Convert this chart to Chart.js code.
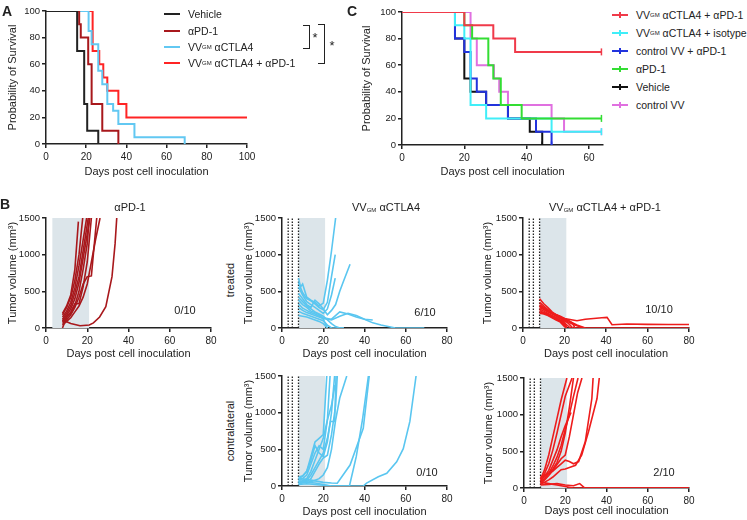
<!DOCTYPE html>
<html lang="en">
<head>
<meta charset="UTF-8">
<title>Survival and tumor growth</title>
<style>
  body { margin: 0; width: 747px; height: 520px; position: relative; overflow: hidden; background: #fff;
         font-family: Arial, "Liberation Sans", Helvetica, sans-serif; color: #222; }
  canvas { position: absolute; }
  .c { position: absolute; white-space: nowrap; font-size: 11px; line-height: 1; transform: translate(-50%, -50%); }
  .v { position: absolute; white-space: nowrap; font-size: 11px; line-height: 1; transform: translate(-50%, -50%) rotate(-90deg); }
  .letter { position: absolute; font-weight: bold; font-size: 14px; line-height: 1; }
  .leg { position: absolute; display: flex; align-items: center; height: 14px; font-size: 10.5px; white-space: nowrap; }
  .leg .ln { position: relative; display: inline-block; width: 16px; height: 2px; margin-right: 8px; }
  .leg .ln b { position: absolute; left: 7px; top: -2px; width: 1.5px; height: 6px; background: inherit; }
  sub { font-size: 6px; vertical-align: -1px; }
  .br { position: absolute; border: 1.5px solid #222; border-left: none; }
  .star { position: absolute; font-size: 13px; transform: translate(-50%, -50%); }
</style>
<script src="https://cdn.jsdelivr.net/npm/chart.js"></script>
</head>
<body>

<canvas id="chartA"></canvas>
<canvas id="chartC"></canvas>
<canvas id="chartB1"></canvas>
<canvas id="chartB2"></canvas>
<canvas id="chartB3"></canvas>
<canvas id="chartB4"></canvas>
<canvas id="chartB5"></canvas>

<!-- panel letters -->
<div class="letter" style="left:2px;top:4px">A</div>
<div class="letter" style="left:0px;top:197px">B</div>
<div class="letter" style="left:347px;top:4px">C</div>

<!-- legend A -->
<div class="leg" style="left:164px;top:7px"><span class="ln" style="background:#222"></span>Vehicle</div>
<div class="leg" style="left:164px;top:24px"><span class="ln" style="background:#a8181c"></span>αPD-1</div>
<div class="leg" style="left:164px;top:40px"><span class="ln" style="background:#62c8f2"></span>VV<sub>GM</sub>&nbsp;αCTLA4</div>
<div class="leg" style="left:164px;top:56px"><span class="ln" style="background:#ff2424"></span>VV<sub>GM</sub>&nbsp;αCTLA4 + αPD-1</div>
<div class="br" style="left:303px;top:25px;width:6px;height:22px"></div>
<div class="star" style="left:315px;top:37px">*</div>
<div class="br" style="left:318px;top:24px;width:6px;height:38px"></div>
<div class="star" style="left:332px;top:45px">*</div>

<!-- legend C -->
<div class="leg" style="left:612px;top:8px"><span class="ln" style="background:#f03a4a"><b></b></span>VV<sub>GM</sub>&nbsp;αCTLA4 + αPD-1</div>
<div class="leg" style="left:612px;top:26px"><span class="ln" style="background:#40eef8"><b></b></span>VV<sub>GM</sub>&nbsp;αCTLA4 + isotype</div>
<div class="leg" style="left:612px;top:44px"><span class="ln" style="background:#2233dd"><b></b></span>control VV + αPD-1</div>
<div class="leg" style="left:612px;top:62px"><span class="ln" style="background:#33dd33"><b></b></span>αPD-1</div>
<div class="leg" style="left:612px;top:80px"><span class="ln" style="background:#111"><b></b></span>Vehicle</div>
<div class="leg" style="left:612px;top:98px"><span class="ln" style="background:#e070e0"><b></b></span>control VV</div>

<!-- panel B titles and labels -->
<div class="c" style="left:130px;top:207px">αPD-1</div>
<div class="c" style="left:386px;top:207px">VV<sub>GM</sub>&nbsp;αCTLA4</div>
<div class="c" style="left:605px;top:207px">VV<sub>GM</sub>&nbsp;αCTLA4 + αPD-1</div>
<div class="v" style="left:230px;top:280px">treated</div>
<div class="v" style="left:230px;top:431px">contralateral</div>
<div class="c" style="left:185px;top:310px">0/10</div>
<div class="c" style="left:425px;top:312px">6/10</div>
<div class="c" style="left:659px;top:309px">10/10</div>
<div class="c" style="left:427px;top:472px">0/10</div>
<div class="c" style="left:664px;top:472px">2/10</div>

<script>
// ---- Panel A: survival (day, % alive) ----
const kmA_vehicle = [[0,100],[15.5,70],[19,30],[20.5,10],[26,0]];
const kmA_pd1     = [[0,100],[16.5,90],[17.3,80],[21,60],[22.7,30],[28,10],[36,0]];
const kmA_ctla4   = [[0,100],[21.2,85],[22.7,75],[26,55],[28,45],[30.5,30],[33.4,25],[36,15],[44,5],[69,0]];
const kmA_combo   = [[0,100],[23.2,70],[26.5,60],[28.5,50],[30.5,40],[36,30],[40,20],[100,20]];
const ticksA_x = [0, 20, 40, 60, 80, 100];
const ticksSurv = [0, 20, 40, 60, 80, 100];

// ---- Panel C: survival (day, % alive) ----
const kmC_combo   = [[0,100],[20,90],[29.3,80],[36.3,70],[64,70]];
const kmC_isotype = [[0,100],[17,90],[20,80],[22,30],[27,20],[48,10],[64,10]];
const kmC_vvPd1   = [[0,100],[17,80],[20,70],[22,50],[24,40],[27,30],[34,20],[43,10],[48,0]];
const kmC_pd1     = [[0,100],[20,90],[22.5,80],[27.7,60],[29.3,50],[31.7,30],[38.4,20],[64,20]];
const kmC_vehicle = [[0,100],[17,80],[20,50],[22,40],[27,30],[34,20],[41,10],[45,0]];
const kmC_vv      = [[0,100],[22,80],[24,60],[29.5,50],[31.2,40],[34,30],[48,20],[52,10],[64,10]];
const ticksC_x = [0, 20, 40, 60];

// ---- Panel B: tumor volume (day, mm3) per mouse ----
const ticksB_x = [0, 20, 40, 60, 80];
const ticksB_y = [0, 500, 1000, 1500];
const treatPd1 = [3, 21];        // shaded window, aPD-1 alone
const treatVV = [8, 21];         // shaded window, virus groups
const injectDays = [3, 5, 8];    // dotted lines

const tumPd1 = [
  [[8,200],[10,300],[12,450],[14,800],[15.7,1450]],
  [[8,180],[10,280],[12,420],[14,650],[16,1000],[17.8,1500]],
  [[8,150],[10,230],[12,350],[14,550],[16,850],[18,1200],[19.7,1500]],
  [[8,120],[10,200],[12,300],[14,480],[16,700],[18,1050],[20.5,1500]],
  [[8,100],[10,170],[12,260],[14,400],[16,620],[18,950],[21.3,1500]],
  [[8,80],[10,140],[12,220],[14,330],[16,330],[18,560],[20,900],[22,1500]],
  [[8,60],[10,110],[12,180],[14,280],[16,420],[18,600],[20,700],[22,710],[24.6,1500]],
  [[8,40],[10,90],[12,140],[14,220],[16,300],[18,420],[20,600],[22,900],[24,1200],[26.2,1500]],
  [[8,0],[10,150],[12,200],[14,310],[16,500],[18,800],[20,1150],[21,1500]],
  [[8,110],[12,60],[16.5,30],[21,40],[23,70],[26,150],[29,290],[32,700],[33.5,1150],[34.3,1500]]
];
const tumCtla4 = [
  [[8,680],[9,560],[10,600],[12,420],[14,380],[16,350],[18,300],[20,340],[22,650],[24,1050],[26,1500]],
  [[8,620],[10,480],[12,400],[14,370],[16,330],[18,280],[20,250],[22,350],[24,700],[25.8,1000]],
  [[8,560],[10,450],[12,360],[14,320],[16,280],[18,240],[20,200],[22,260],[24,450],[25.8,680]],
  [[8,470],[10,400],[12,320],[14,280],[16,380],[18,330],[20,260],[22,180],[24,240],[26,320],[28,500],[30,650],[33,870]],
  [[8,420],[10,360],[12,300],[14,260],[16,220],[18,190],[20,160],[22,110],[24,60],[26,20],[28,0],[30,0]],
  [[8,380],[10,320],[12,280],[14,230],[16,210],[18,180],[20,120],[22,0]],
  [[8,330],[10,270],[12,240],[14,210],[16,190],[18,160],[20,140],[24,120],[28,220],[32,190],[36,150],[40,120],[44,110]],
  [[8,280],[10,240],[12,210],[14,190],[16,170],[18,150],[20,130],[24,110],[28,160],[32,200],[36,170],[40,120],[44,70],[48,40],[55,0],[69,0]],
  [[8,230],[10,200],[12,180],[14,160],[16,140],[18,120],[20,100],[22,40],[24,0],[30,0]],
  [[8,170],[10,160],[12,150],[14,130],[16,110],[18,90],[20,60],[22,0]]
];
const tumCombo = [
  [[8,400],[10,330],[12,280],[14,220],[16,180],[18,150],[20,130],[22,120],[24,110],[26,100],[28,110],[30,120],[34,130],[38,140],[40.5,145],[42.9,44],[50,55],[60,50],[70,48],[80,48]],
  [[8,350],[10,300],[12,250],[14,200],[16,170],[18,140],[20,100],[22,60],[24,0],[80,0]],
  [[8,320],[10,280],[12,240],[14,210],[16,180],[18,150],[20,120],[22,100],[24,70],[26,40],[28,20],[30,0]],
  [[8,300],[10,260],[12,220],[14,190],[16,170],[18,140],[20,80],[21,0]],
  [[8,280],[10,250],[12,220],[14,200],[16,180],[18,160],[20,130],[22,100],[24,60],[25,0]],
  [[8,260],[10,230],[12,200],[14,170],[16,140],[18,110],[20,70],[22,20],[23,0]],
  [[8,240],[10,210],[12,190],[14,160],[16,130],[18,100],[20,60],[21,0]],
  [[8,220],[10,200],[12,180],[14,150],[16,120],[18,90],[20,40],[21,0]],
  [[8,200],[10,190],[12,170],[14,140],[16,110],[18,80],[20,20],[21,0]],
  [[8,300],[10,270],[12,240],[14,200],[16,160],[18,130],[20,110],[22,80],[24,50],[26,30],[28,10],[30,0]]
];
const tumCtla4Contra = [
  [[8,100],[10,130],[12,200],[14,400],[16,600],[18,650],[20,700],[21.7,1500]],
  [[8,80],[10,100],[12,150],[14,300],[16,450],[18,550],[20,500],[22,900],[23.3,1500]],
  [[8,60],[10,70],[12,100],[14,200],[16,350],[18,500],[20,650],[22,900],[24,1100],[25.7,1380]],
  [[8,50],[10,60],[12,80],[14,150],[16,250],[18,350],[20,450],[22,650],[23.5,880],[25.5,880],[26.2,1500]],
  [[8,40],[10,50],[12,60],[14,100],[16,200],[18,300],[20,380],[22,420],[24,700],[26,1100],[26.8,1500]],
  [[8,30],[10,40],[12,50],[14,60],[16,80],[18,100],[20,150],[22,250],[24,500],[26,900],[28,1200],[31.4,1500]],
  [[8,100],[12,90],[16,70],[20,50],[24,40],[26.8,37],[33,286],[39.4,787],[42.3,1500]],
  [[8,70],[12,50],[16,40],[20,20],[24,0],[32.7,0],[36,400],[39,900],[41.9,1500]],
  [[8,20],[12,30],[16,20],[20,10],[24,0],[39.4,0],[41,40],[46.7,127],[50.8,173],[55.6,330],[58.8,510],[62,880],[65,1500]],
  [[8,120],[10,140],[12,200],[14,350],[16,550],[18,450],[20,400],[22,600],[24,1000],[25.5,1500]]
];
const tumComboContra = [
  [[8,120],[10,250],[12,450],[14,700],[16,950],[18,1200],[20.8,1500]],
  [[8,100],[10,200],[12,330],[14,520],[16,750],[18,1000],[20,1250],[23.3,1500]],
  [[8,90],[10,160],[12,240],[14,380],[16,520],[18,700],[20,850],[22.8,1030]],
  [[8,70],[10,130],[12,200],[14,300],[16,420],[18,580],[20,800],[22,1000],[24,1250],[26.2,1500]],
  [[8,60],[10,110],[12,170],[14,240],[16,320],[18,400],[20,450],[22,700],[24,1000],[26,1300],[28.1,1500]],
  [[8,150],[10,180],[12,200],[14,230],[16,280],[18,330],[20,380],[22,360],[24,330],[26.5,360],[29.7,630],[32.9,1220],[33.5,1500]],
  [[8,50],[10,80],[12,110],[14,150],[16,200],[18,250],[20,260],[22,280],[25,310],[28,450],[31.3,770],[35.4,1220],[36.5,1500]],
  [[8,130],[10,160],[12,200],[14,260],[16,350],[18,500],[20,750],[22,1100],[24,1500]],
  [[8,40],[12,50],[16,60],[20,40],[24,30],[27,60],[29.5,0],[80,0]],
  [[8,80],[12,60],[16,40],[20,20],[24,0],[80,0]]
];

// ---------------- drawing ----------------
Chart.defaults.font.family = 'Arial, "Liberation Sans", Helvetica, sans-serif';
Chart.defaults.color = '#222';
const INK = '#222';

function pts(arr) { return arr.map(p => ({x: p[0], y: p[1]})); }

function xScale(min, max, ticks, title, box) {
    return {
        type: 'linear', position: 'bottom', min: min, max: max,
        afterBuildTicks: s => { s.ticks = ticks.map(v => ({value: v})); },
        afterFit: s => { s.height = box.xh; },
        grid: {drawOnChartArea: false, drawTicks: true, tickLength: 4, color: INK, lineWidth: 1.5},
        border: {color: INK, width: 1.5},
        ticks: {font: {size: 10}, color: INK, padding: 3, maxRotation: 0, autoSkip: false,
                callback: v => String(v)},
        title: {display: true, text: title, font: {size: 11}, color: INK, padding: {top: 0, bottom: box.xtp}}
    };
}

function yScale(min, max, ticks, title, box) {
    return {
        type: 'linear', position: 'left', min: min, max: max,
        afterBuildTicks: s => { s.ticks = ticks.map(v => ({value: v})); },
        afterFit: s => { s.width = box.yw; },
        grid: {drawOnChartArea: false, drawTicks: true, tickLength: 4, color: INK, lineWidth: 1.5},
        border: {color: INK, width: 1.5},
        ticks: {font: {size: 9.5}, color: INK, padding: 2, autoSkip: false,
                callback: v => String(v)},
        title: {display: true, text: title, font: {size: 11}, color: INK, padding: {top: box.ytp, bottom: 0}}
    };
}

function makeChart(id, box, scales, datasets) {
    const cv = document.getElementById(id);
    const w = box.R - box.L + box.yw + box.pr;
    const h = box.B - box.T + box.pt + box.xh;
    cv.width = w; cv.height = h;
    cv.style.width = w + 'px'; cv.style.height = h + 'px';
    cv.style.left = (box.L - box.yw) + 'px';
    cv.style.top = (box.T - box.pt) + 'px';
    return new Chart(cv, {
        type: 'line',
        data: {datasets: datasets},
        options: {
            responsive: false, animation: false, devicePixelRatio: 1,
            layout: {padding: {top: box.pt, right: box.pr, left: 0, bottom: 0}},
            plugins: {legend: {display: false}, tooltip: {enabled: false}},
            elements: {point: {radius: 0}, line: {tension: 0}},
            scales: scales
        }
    });
}

function km(data, color, censor) {
    return {
        data: pts(data), borderColor: color, borderWidth: 2, stepped: 'before',
        pointStyle: 'line', rotation: 90, pointBorderColor: color, pointBorderWidth: 1.5,
        pointRadius: c => (censor && c.dataIndex === data.length - 1) ? 3.5 : 0
    };
}

function tumorSets(curves, color, shade, dotted) {
    const sets = [{
        data: [{x: shade[0], y: 1500}, {x: shade[1], y: 1500}],
        fill: 'origin', backgroundColor: '#dce5ea', borderWidth: 0, pointRadius: 0, order: 3
    }];
    dotted.forEach(d => sets.push({
        data: [{x: d, y: 0}, {x: d, y: 1500}],
        borderColor: INK, borderWidth: 1.3, borderDash: [1.5, 1.5], pointRadius: 0, order: 2
    }));
    curves.forEach(c => sets.push({data: pts(c), borderColor: color, borderWidth: 1.6, pointRadius: 0, order: 0}));
    return sets;
}

// panel A
const boxA = {L: 46, T: 11, R: 247, B: 144, yw: 46, xh: 38, pt: 8, pr: 14, ytp: 6, xtp: 3};
makeChart('chartA', boxA, {
    x: xScale(0, 100, ticksA_x, 'Days post cell inoculation', boxA),
    y: yScale(0, 100, ticksSurv, 'Probability of Survival', boxA)
}, [
    km(kmA_vehicle, '#222'),
    km(kmA_pd1, '#a8181c'),
    km(kmA_ctla4, '#62c8f2'),
    km(kmA_combo, '#ff2424')
]);

// panel C
const boxC = {L: 402, T: 12, R: 603, B: 145, yw: 46, xh: 38, pt: 8, pr: 8, ytp: 4, xtp: 4};
makeChart('chartC', boxC, {
    x: xScale(0, 64.5, ticksC_x, 'Days post cell inoculation', boxC),
    y: yScale(0, 100, ticksSurv, 'Probability of Survival', boxC)
}, [
    km(kmC_combo, '#f03a4a', true),
    km(kmC_pd1, '#33dd33', true),
    km(kmC_isotype, '#40eef8', true),
    km(kmC_vv, '#e070e0', true),
    km(kmC_vvPd1, '#2233dd', true),
    km(kmC_vehicle, '#111', true)
]);

// panel B
const TV = 'Tumor volume (mm³)';
const DP = 'Days post cell inoculation';
const boxB1 = {L: 46, T: 218, R: 211, B: 328, yw: 46, xh: 36, pt: 8, pr: 12, ytp: 6, xtp: 3};
const boxB2 = {L: 282, T: 218, R: 447, B: 328, yw: 46, xh: 36, pt: 8, pr: 12, ytp: 6, xtp: 3};
const boxB3 = {L: 523, T: 218, R: 689, B: 328, yw: 46, xh: 36, pt: 8, pr: 12, ytp: 4, xtp: 3};
const boxB4 = {L: 282, T: 376, R: 447, B: 486, yw: 46, xh: 34, pt: 8, pr: 12, ytp: 6, xtp: 1};
const boxB5 = {L: 524, T: 378, R: 689, B: 488, yw: 46, xh: 32, pt: 8, pr: 12, ytp: 4, xtp: 2};

function bScales(box) {
    return {x: xScale(0, 80, ticksB_x, DP, box), y: yScale(0, 1500, ticksB_y, TV, box)};
}

makeChart('chartB1', boxB1, bScales(boxB1), tumorSets(tumPd1, '#a8181c', treatPd1, []));
makeChart('chartB2', boxB2, bScales(boxB2), tumorSets(tumCtla4, '#5ac6f0', treatVV, injectDays));
makeChart('chartB3', boxB3, bScales(boxB3), tumorSets(tumCombo, '#ee1c1c', treatVV, injectDays));
makeChart('chartB4', boxB4, bScales(boxB4), tumorSets(tumCtla4Contra, '#5ac6f0', treatVV, injectDays));
makeChart('chartB5', boxB5, bScales(boxB5), tumorSets(tumComboContra, '#ee1c1c', treatVV, injectDays));
</script>
</body>
</html>
